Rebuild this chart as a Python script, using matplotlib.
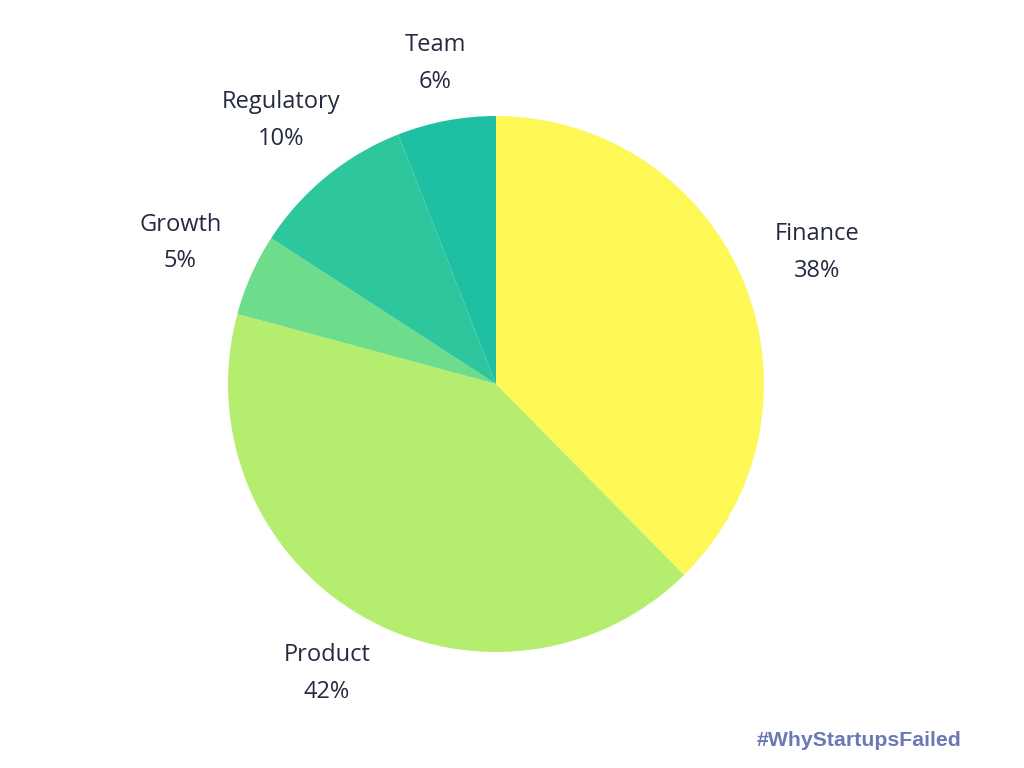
import matplotlib
matplotlib.use('Agg')
import matplotlib.pyplot as plt
import numpy as np

# data
categories = ['Finance', 'Product', 'Growth', 'Regulatory', 'Team']
shares = [38, 42, 5, 10, 6]
colors = ['#fef856', '#b5ee6f', '#6ddc8b', '#2ec69c', '#1fbfa4']
label_dist = [1.295, 1.25, 1.29, 1.27, 1.217]  # outside label radius, per slice

plt.rcParams['font.family'] = ['Open Sans', 'DejaVu Sans']

fig = plt.figure(figsize=(10.24, 7.68), dpi=100)
ax = fig.add_axes([228/1024, 116/768, 536/1024, 536/768])

wedges, _ = ax.pie(shares, colors=colors, startangle=90, counterclock=False)

# labels at the middle angle of each wedge
for w, c, s, d in zip(wedges, categories, shares, label_dist):
    ang = np.deg2rad((w.theta1 + w.theta2) / 2)
    ax.text(d * np.cos(ang), d * np.sin(ang), '%s\n%d%%' % (c, s),
            fontsize=17, color='#262a40', ha='center', va='center',
            linespacing=1.7)

ax.set_xlim(-1, 1)
ax.set_ylim(-1, 1)
ax.set_aspect('equal')

fig.text(859/1024, 1 - 740/768, '#WhyStartupsFailed', fontsize=15.3, fontweight='bold',
         color='#6a78b6', ha='center', va='center', family='Liberation Sans')

fig.savefig('out.png', dpi=100)
